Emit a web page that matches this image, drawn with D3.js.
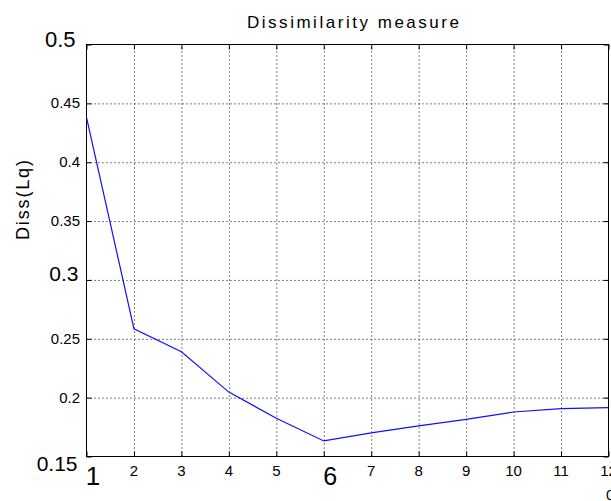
<!DOCTYPE html>
<html>
<head>
<meta charset="utf-8">
<script src="https://cdn.jsdelivr.net/npm/d3@7"></script>
<style>
  body { margin: 0; background: #fff; }
  text { font-family: "Liberation Sans", Arial, sans-serif; fill: #000; }
  .grid line { stroke: #000; stroke-dasharray: 1,3; stroke-width: 1; }
  .grid .domain { display: none; }
  .ax .domain { display: none; }
  .ax line { stroke: #000; }
</style>
</head>
<body>
<div id="chartwrap"></div>
<script>
const WIDTH = 611;
const HEIGHT = 501;

// data
const clusters = [1, 2, 3, 4, 5, 6, 7, 8, 9, 10, 11, 12];
const diss = [0.438, 0.2585, 0.239, 0.2047, 0.1825, 0.1632, 0.170, 0.176, 0.1816, 0.1878, 0.1907, 0.1915];
const xTicks = [1, 2, 3, 4, 5, 6, 7, 8, 9, 10, 11, 12];
const yTicks = [0.15, 0.2, 0.25, 0.3, 0.35, 0.4, 0.45, 0.5];
const yTickLabels = ['0.15', '0.2', '0.25', '0.3', '0.35', '0.4', '0.45', '0.5'];

const plot = { left: 86.5, right: 608.5, top: 44.5, bottom: 456.5 };

const x = d3.scaleLinear().domain([1, 12]).range([plot.left, plot.right]);
const y = d3.scaleLinear().domain([0.15, 0.5]).range([plot.bottom, plot.top]);

const svg = d3.select('#chartwrap')
  .append('svg')
  .attr('width', WIDTH)
  .attr('height', HEIGHT)
  .style('display', 'block')
  .style('background-color', '#fff');

// grid
svg.append('g')
  .attr('class', 'grid')
  .attr('transform', `translate(0,${plot.bottom})`)
  .call(d3.axisBottom(x).tickValues(xTicks.slice(1, -1))
    .tickSize(-(plot.bottom - plot.top)).tickFormat(''));

svg.append('g')
  .attr('class', 'grid')
  .attr('transform', `translate(${plot.left},0)`)
  .call(d3.axisLeft(y).tickValues(yTicks.slice(1, -1))
    .tickSize(-(plot.right - plot.left)).tickFormat(''));

// inner ticks on all four sides
const bottomAxis = svg.append('g')
  .attr('class', 'ax')
  .attr('transform', `translate(0,${plot.bottom})`)
  .call(d3.axisBottom(x).tickValues(xTicks).tickSize(-5).tickSizeOuter(0));

svg.append('g')
  .attr('class', 'ax')
  .attr('transform', `translate(0,${plot.top})`)
  .call(d3.axisTop(x).tickValues(xTicks).tickSize(-5).tickSizeOuter(0).tickFormat(''));

const leftAxis = svg.append('g')
  .attr('class', 'ax')
  .attr('transform', `translate(${plot.left},0)`)
  .call(d3.axisLeft(y).tickValues(yTicks).tickSize(-5).tickSizeOuter(0)
    .tickFormat((d, i) => yTickLabels[i]));

svg.append('g')
  .attr('class', 'ax')
  .attr('transform', `translate(${plot.right},0)`)
  .call(d3.axisRight(y).tickValues(yTicks).tickSize(-5).tickSizeOuter(0).tickFormat(''));

// x tick labels
bottomAxis.selectAll('text')
  .attr('font-family', null)
  .style('font-size', '15px')
  .attr('y', 19)
  .attr('dy', 0)
  .attr('dx', -0.5);

bottomAxis.selectAll('text')
  .filter(d => d === 1)
  .style('font-size', '26px')
  .attr('y', 28)
  .attr('dx', 6);

bottomAxis.selectAll('text')
  .filter(d => d === 6)
  .style('font-size', '25px')
  .attr('y', 28.5)
  .attr('dx', 6);

// y tick labels
leftAxis.selectAll('text')
  .attr('font-family', null)
  .style('font-size', '15px')
  .attr('x', -6.5)
  .attr('dy', 4.5);

leftAxis.selectAll('text')
  .filter(d => d === 0.5)
  .style('font-size', '22px')
  .attr('x', -11)
  .attr('dy', 2);

leftAxis.selectAll('text')
  .filter(d => d === 0.3)
  .style('font-size', '21px')
  .attr('x', -8)
  .attr('dy', 1);

leftAxis.selectAll('text')
  .filter(d => d === 0.15)
  .style('font-size', '21px')
  .attr('x', -9)
  .attr('dy', 13.5);

// box
svg.append('rect')
  .attr('x', plot.left)
  .attr('y', plot.top)
  .attr('width', plot.right - plot.left)
  .attr('height', plot.bottom - plot.top)
  .attr('fill', 'none')
  .attr('stroke', '#000')
  .attr('stroke-width', 1);

// series
const line = d3.line()
  .x((d, i) => x(clusters[i]))
  .y(d => y(d));

svg.append('path')
  .datum(diss)
  .attr('d', line)
  .attr('fill', 'none')
  .attr('stroke', '#1010ff')
  .attr('stroke-width', 1.2);

// title and labels
svg.append('text')
  .attr('x', 353)
  .attr('y', 28)
  .attr('text-anchor', 'middle')
  .attr('textLength', 212)
  .attr('lengthAdjust', 'spacing')
  .style('font-size', '17px')
  .text('Dissimilarity measure');

svg.append('text')
  .attr('transform', 'translate(29,200) rotate(-90)')
  .attr('text-anchor', 'middle')
  .attr('textLength', 80)
  .attr('lengthAdjust', 'spacing')
  .style('font-size', '18px')
  .text('Diss(Lq)');

// clipped at the right edge, as in the reference
svg.append('text')
  .attr('x', 606)
  .attr('y', 500)
  .style('font-size', '15px')
  .text('0');
</script>
</body>
</html>
